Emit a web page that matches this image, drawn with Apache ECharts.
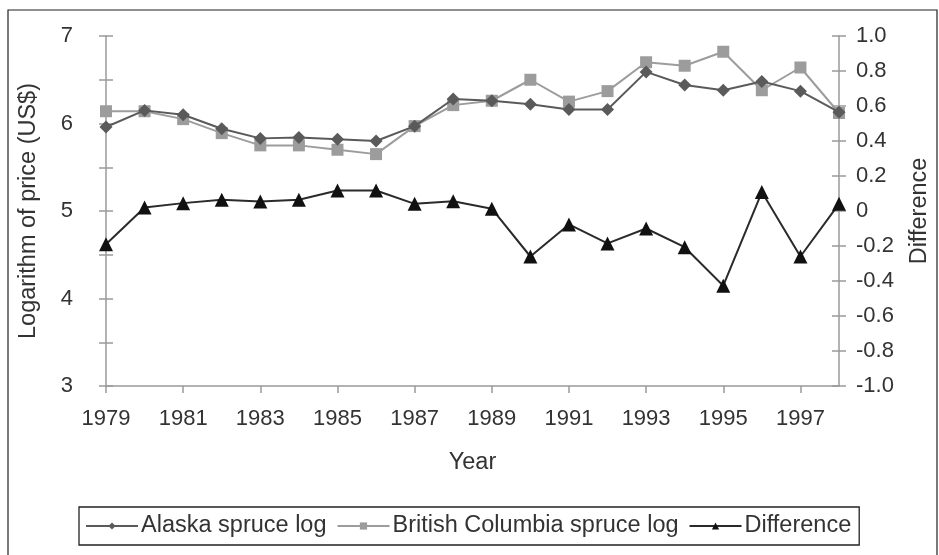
<!DOCTYPE html>
<html>
<head>
<meta charset="utf-8">
<script src="https://cdn.jsdelivr.net/npm/echarts@6/dist/echarts.min.js"></script>
<style>html,body{margin:0;padding:0;background:#fff}#c{width:939px;height:555px}</style>
</head>
<body>
<div id="c"></div>
<script>
var years = ['1979','1980','1981','1982','1983','1984','1985','1986','1987','1988','1989','1990','1991','1992','1993','1994','1995','1996','1997','1998'];
var alaska = [5.96,6.15,6.10,5.94,5.83,5.84,5.82,5.80,5.97,6.28,6.26,6.22,6.16,6.16,6.59,6.44,6.38,6.48,6.37,6.13];
var britishColumbia = [6.14,6.14,6.05,5.89,5.75,5.75,5.70,5.65,5.97,6.21,6.26,6.50,6.25,6.37,6.70,6.66,6.82,6.38,6.64,6.12];
var difference = [-0.19,0.02,0.045,0.064,0.054,0.064,0.117,0.117,0.041,0.056,0.013,-0.26,-0.077,-0.185,-0.10,-0.207,-0.427,0.108,-0.26,0.041];

var txt = '#333';
var axisCol = '#9a9a9a';
var font = 'Liberation Sans, Arial, sans-serif';
var fsTick = 22;
var fsName = 23.5;

var chart = echarts.init(document.getElementById('c'));
function leftFmt(v){ return Math.abs(v - Math.round(v)) < 1e-9 ? String(Math.round(v)) : ''; }
function rightFmt(v){ return Math.abs(v) < 1e-9 ? '0' : v.toFixed(1); }

chart.setOption({
  animation: false,
  backgroundColor: '#fff',
  textStyle: {fontFamily: font},
  graphic: [{
    type: 'rect', shape: {x: 8, y: 10, width: 929, height: 560},
    style: {fill: 'none', stroke: '#222', lineWidth: 1.2}, silent: true, z: -1
  }],
  grid: {left: 106, right: 100, top: 36, bottom: 169, outerBoundsMode: 'none', containLabel: false},
  legend: {
    left: 79, top: 507,
    padding: [7, 8, 7, 6],
    borderColor: '#222', borderWidth: 1.3,
    itemWidth: 52, itemHeight: 9, itemGap: 10,
    textStyle: {fontSize: fsName, color: txt, fontFamily: font, padding: [0,0,0,-2]},
    data: ['Alaska spruce log', 'British Columbia spruce log', 'Difference']
  },
  xAxis: {
    type: 'category', data: years, boundaryGap: false,
    name: 'Year', nameLocation: 'middle', nameGap: 65,
    nameTextStyle: {fontSize: fsName, color: txt, fontFamily: font},
    axisLine: {onZero: false, lineStyle: {color: axisCol, width: 1.5}},
    axisTick: {show: true, interval: 1, length: 7, lineStyle: {color: axisCol, width: 1.5}},
    axisLabel: {interval: 1, fontSize: fsTick, color: txt, margin: 22, fontFamily: font},
    splitLine: {show: false}
  },
  yAxis: [{
    type: 'value', min: 3, max: 7, interval: 0.5, position: 'left',
    name: 'Logarithm of price (US$)', nameLocation: 'middle', nameGap: 65,
    nameTextStyle: {fontSize: fsName, color: txt, fontFamily: font},
    axisLine: {show: true, onZero: false, lineStyle: {color: axisCol, width: 1.5}},
    axisTick: {show: true, length: 7, lineStyle: {color: axisCol, width: 1.5}},
    axisLabel: {formatter: leftFmt, fontSize: fsTick, color: txt, margin: 33, fontFamily: font},
    splitLine: {show: false}
  }, {
    type: 'value', min: -1, max: 1, interval: 0.2, position: 'right',
    name: 'Difference', nameLocation: 'middle', nameGap: 69, nameRotate: 90,
    nameTextStyle: {fontSize: fsName, color: txt, fontFamily: font},
    axisLine: {show: true, onZero: false, lineStyle: {color: axisCol, width: 1.5}},
    axisTick: {show: true, length: 7, lineStyle: {color: axisCol, width: 1.5}},
    axisLabel: {formatter: rightFmt, fontSize: fsTick, color: txt, margin: 17, fontFamily: font},
    splitLine: {show: false}
  }, {
    type: 'value', min: 3, max: 7, interval: 0.5, position: 'left',
    axisLine: {show: false},
    axisTick: {show: true, inside: true, length: 7, lineStyle: {color: axisCol, width: 1.5}},
    axisLabel: {show: false}, splitLine: {show: false}
  }, {
    type: 'value', min: -1, max: 1, interval: 0.2, position: 'right',
    axisLine: {show: false},
    axisTick: {show: true, inside: true, length: 7, lineStyle: {color: axisCol, width: 1.5}},
    axisLabel: {show: false}, splitLine: {show: false}
  }],
  series: [{
    name: 'Alaska spruce log', type: 'line', yAxisIndex: 0, data: alaska,
    symbol: 'diamond', symbolSize: 13, z: 3,
    lineStyle: {color: '#5a5a5a', width: 2},
    itemStyle: {color: '#5a5a5a'}
  }, {
    name: 'British Columbia spruce log', type: 'line', yAxisIndex: 0, data: britishColumbia,
    symbol: 'rect', symbolSize: 12, z: 2,
    lineStyle: {color: '#9c9c9c', width: 2},
    itemStyle: {color: '#9c9c9c'}
  }, {
    name: 'Difference', type: 'line', yAxisIndex: 1, data: difference,
    symbol: 'triangle', symbolSize: 14, z: 4,
    lineStyle: {color: '#2a2a2a', width: 2},
    itemStyle: {color: '#111'}
  }]
});
</script>
</body>
</html>
